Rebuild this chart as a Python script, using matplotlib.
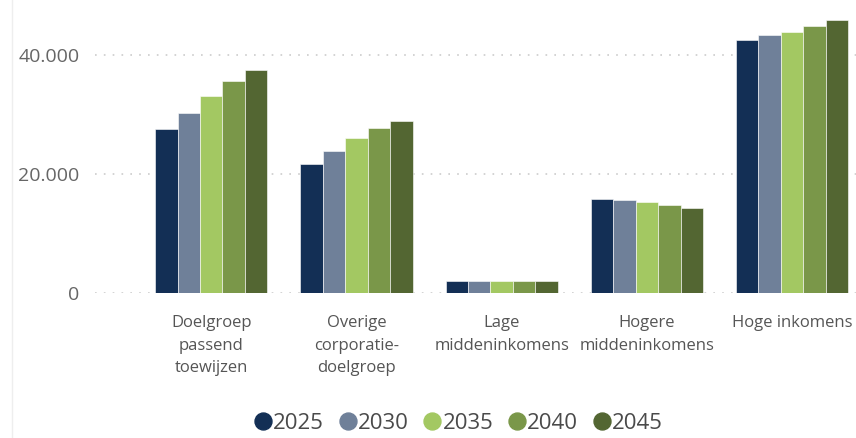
import numpy as np
import matplotlib
matplotlib.use("Agg")
import matplotlib.pyplot as plt
from matplotlib.lines import Line2D
from matplotlib.ticker import FuncFormatter

plt.rcParams['font.family'] = ['Open Sans', 'DejaVu Sans']

# woningvraag per inkomensgroep, per peiljaar
categories = ["Doelgroep\npassend\ntoewijzen", "Overige\ncorporatie-\ndoelgroep",
              "Lage\nmiddeninkomens", "Hogere\nmiddeninkomens", "Hoge inkomens"]
years = ["2025", "2030", "2035", "2040", "2045"]
v2025 = [27500, 21700, 2000, 15800, 42500]
v2030 = [30300, 23900, 2000, 15700, 43500]
v2035 = [33200, 26100, 2000, 15300, 44000]
v2040 = [35600, 27800, 2000, 14700, 44900]
v2045 = [37500, 29000, 2000, 14300, 46000]
series = [v2025, v2030, v2035, v2040, v2045]
colors = ["#132f55", "#6f8099", "#a3c862", "#7a9749", "#536632"]

fig = plt.figure(figsize=(8.56, 4.38), dpi=100)
ax = fig.add_axes([95 / 856, (438 - 292.7) / 438, 761 / 856, (292.7 - 10) / 438])

x = np.arange(len(categories))
bw = 0.1545
for i, (vals, col) in enumerate(zip(series, colors)):
    ax.bar(x + (i - 2) * bw, vals, width=bw, color=col, edgecolor="white",
           linewidth=0.4, label=years[i], zorder=3)

ax.set_xlim(-0.8, 4.44)
ax.set_ylim(0, 47630)
ax.set_yticks([0, 20000, 40000])
ax.yaxis.set_major_formatter(FuncFormatter(lambda v, p: f"{int(v):,}".replace(",", ".")))
ax.grid(axis="y", color="#cccccc", linestyle=(0, (1, 4.3)), linewidth=1.2, zorder=0)
for s in ax.spines.values():
    s.set_visible(False)
ax.tick_params(axis="y", length=0, pad=11, labelsize=14, labelcolor="#666666")
ax.set_xticks(x)
ax.set_xticklabels(categories, fontsize=12, color="#555555", linespacing=1.55, va="top")
ax.tick_params(axis="x", length=0, pad=16)

handles = [Line2D([], [], marker="o", linestyle="none", markersize=12.2,
                  markerfacecolor=c, markeredgecolor=c) for c in colors]
fig.legend(handles, years, loc="center", bbox_to_anchor=(459 / 856, 1 - 423.5 / 438),
           ncol=5, frameon=False, fontsize=16, handlelength=0.7, handletextpad=0.1,
           columnspacing=0.72, labelcolor="#4a4a4a", borderpad=0)

fig.add_artist(Line2D([12 / 856, 12 / 856], [0, 1], color="#eeeeee", linewidth=1))

fig.savefig("out.png", dpi=100)
